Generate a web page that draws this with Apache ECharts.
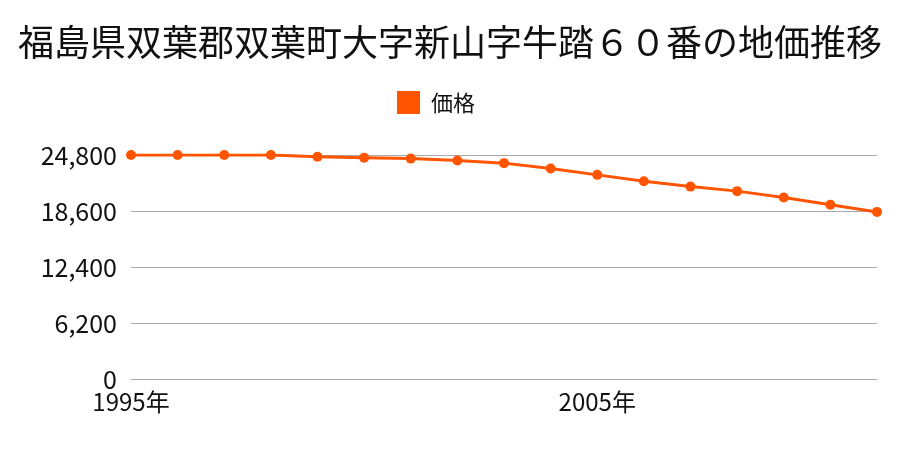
<!DOCTYPE html>
<html><head><meta charset="utf-8">
<script src="https://cdn.jsdelivr.net/npm/echarts@6/dist/echarts.min.js"></script>
<style>html,body{margin:0;padding:0;background:#fff}#c{width:900px;height:450px}</style>
</head><body><div id="c"></div>
<script>
const titleText = '福島県双葉郡双葉町大字新山字牛踏６０番の地価推移';
const seriesName = '価格';
const years = ['1995','1996','1997','1998','1999','2000','2001','2002','2003','2004','2005','2006','2007','2008','2009','2010','2011'];
const prices = [24800,24800,24800,24800,24600,24500,24400,24200,23900,23300,22600,21900,21300,20800,20100,19300,18500];
const yTicks = [0,6200,12400,18600,24800];
const font = '"Noto Sans CJK JP", "Noto Sans", sans-serif';
const chart = echarts.init(document.getElementById('c'));
chart.setOption({
  animation:false,
  title:{text:titleText,left:'center',top:19,textStyle:{fontFamily:font,fontSize:36,fontWeight:'normal',color:'#111'}},
  legend:{data:[seriesName],top:86,left:392,icon:'rect',itemWidth:23,itemHeight:23,itemGap:10,textStyle:{fontFamily:font,fontSize:22,color:'#111',padding:[0,0,0,6]}},
  grid:{left:131,right:23,top:155,bottom:71,containLabel:false},
  xAxis:{type:'category',data:years,boundaryGap:false,
    axisLine:{lineStyle:{color:'#aaa'}},axisTick:{show:false},
    axisLabel:{interval:9,fontFamily:font,fontSize:24,color:'#111',margin:11,formatter:v=>v+'年'}},
  yAxis:{type:'value',min:0,max:yTicks[yTicks.length-1],interval:yTicks[1],
    axisLine:{show:false},axisTick:{show:false},
    splitLine:{lineStyle:{color:'#aaa'}},
    axisLabel:{fontFamily:font,fontSize:25,color:'#111',margin:14,formatter:v=>v.toLocaleString('en-US')}},
  series:[{name:seriesName,type:'line',data:prices,color:'#ff5500',
    lineStyle:{width:3,color:'#ff5500'},symbol:'circle',symbolSize:10,itemStyle:{color:'#ff5500'}}]
});
</script></body></html>
